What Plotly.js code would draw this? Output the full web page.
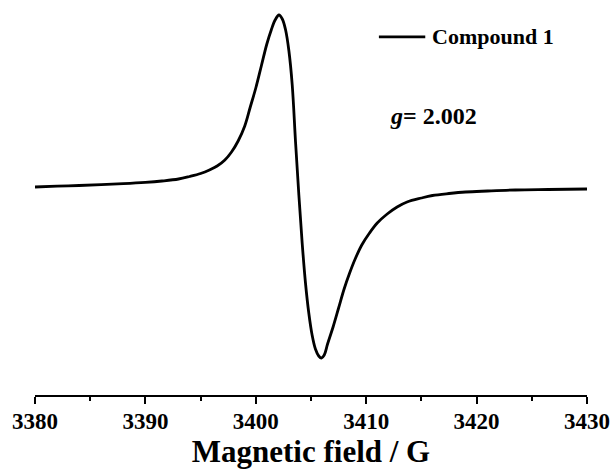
<!DOCTYPE html>
<html>
<head>
<meta charset="utf-8">
<script src="https://cdn.plot.ly/plotly-3.0.1.min.js"></script>
<style>
  html, body { margin: 0; padding: 0; background: #fff; }
  #chart { width: 615px; height: 470px; }
</style>
</head>
<body>
<div id="chart"></div>
<script>
// EPR first-derivative spectrum (arbitrary intensity units)
const field = [
  3380.0, 3382.0, 3384.0, 3386.0, 3388.0, 3390.0, 3391.5, 3393.0, 3394.0,
  3395.0, 3395.8, 3396.5, 3397.2, 3397.8, 3398.4, 3399.0, 3399.5, 3400.0,
  3400.5, 3401.0, 3401.4, 3401.75, 3402.1, 3402.4, 3402.7, 3403.0, 3403.3,
  3403.6, 3403.9, 3404.2, 3404.5, 3404.8, 3405.1, 3405.4, 3405.7, 3405.95,
  3406.2, 3406.5, 3407.0, 3407.5, 3408.0, 3408.5, 3409.0, 3409.6, 3410.3,
  3411.0, 3411.9, 3412.8, 3413.7, 3415.0, 3416.0, 3417.5, 3419.0, 3421.0,
  3423.5, 3426.5, 3430.0
];
const intensity = [
  0, 0.8, 1.5, 2.3, 3.3, 4.6, 6, 8, 10.5,
  13.5, 17, 21, 27, 35, 46, 61, 80, 99,
  121, 143, 157, 167, 172, 168, 157, 136, 102,
  45, -8, -56, -96, -126, -148, -162, -169, -171,
  -168, -157, -140, -121, -102, -86, -72, -58, -46,
  -36, -27, -20, -15, -11, -8.5, -6.5, -5, -4,
  -3, -2.5, -2
];

// Axis ticks
const tickValues = [3380, 3390, 3400, 3410, 3420, 3430];
const tickLabels = ['3380', '3390', '3400', '3410', '3420', '3430'];

const serif = '"Liberation Serif", "Times New Roman", serif';

const trace = {
  x: field,
  y: intensity,
  type: 'scatter',
  mode: 'lines',
  line: { color: '#000', width: 2.8, shape: 'spline', smoothing: 1 },
  showlegend: false,
  hoverinfo: 'skip'
};

const layout = {
  width: 615,
  height: 470,
  margin: { l: 35, r: 28, t: 10, b: 75 },
  paper_bgcolor: '#fff',
  plot_bgcolor: '#fff',
  font: { family: serif, color: '#000' },
  xaxis: {
    range: [3380, 3430],
    tickmode: 'array',
    tickvals: tickValues,
    ticktext: tickLabels.map(t => '<b>' + t + '</b>'),
    ticks: 'outside',
    ticklen: 7,
    tickwidth: 2,
    tickcolor: '#000',
    ticklabelstandoff: -3,
    minor: { dtick: 5, tick0: 3380, ticks: 'outside', ticklen: 4, tickwidth: 2, tickcolor: '#000', showgrid: false },
    showline: true,
    linecolor: '#000',
    linewidth: 2,
    showgrid: false,
    zeroline: false,
    tickfont: { family: serif, size: 23, color: '#000' },
    title: {
      text: '<b>Magnetic field / G</b>',
      font: { family: serif, size: 31, color: '#000' },
      standoff: 4
    }
  },
  yaxis: {
    range: [-208, 177],
    visible: false,
    showgrid: false,
    zeroline: false
  },
  shapes: [
    {
      type: 'line', xref: 'paper', yref: 'paper',
      x0: 0.623, x1: 0.707, y0: 0.93, y1: 0.93,
      line: { color: '#000', width: 2.8 }
    }
  ],
  annotations: [
    {
      xref: 'paper', yref: 'paper', x: 0.7156, y: 0.93,
      xanchor: 'left', yanchor: 'middle', showarrow: false,
      text: '<b>Compound 1</b>',
      font: { family: serif, size: 22, color: '#000' }
    },
    {
      xref: 'paper', yref: 'paper', x: 0.64, y: 0.725,
      xanchor: 'left', yanchor: 'middle', showarrow: false,
      text: '<b><i>g</i>= 2.002</b>',
      font: { family: serif, size: 24, color: '#000' }
    }
  ]
};

Plotly.newPlot('chart', [trace], layout, { staticPlot: true, displayModeBar: false });
</script>
</body>
</html>
